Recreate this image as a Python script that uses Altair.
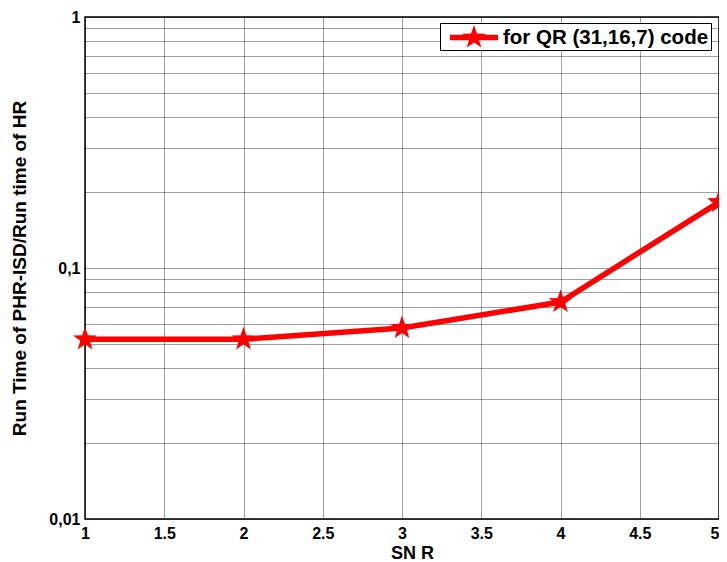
import math
import altair as alt
import pandas as pd

# ---- data ----
snr = [1, 2, 3, 4, 5]
ratio = [0.052, 0.052, 0.0577, 0.0732, 0.183]
series_name = "for QR (31,16,7) code"
x_ticks = [1, 1.5, 2, 2.5, 3, 3.5, 4, 4.5, 5]
y_grid = [0.01, 0.02, 0.03, 0.04, 0.05, 0.06, 0.07, 0.08, 0.09,
          0.1, 0.2, 0.3, 0.4, 0.5, 0.6, 0.7, 0.8, 0.9, 1]
y_labels = {"1": "1", "0.1": "0,1", "0.01": "0,01"}

df = pd.DataFrame({"SNR": snr, "ratio": ratio, "series": [series_name] * len(snr)})

# five-point star (MATLAB pentagram) as a unit path
pts = []
for i in range(10):
    r = 1.0 if i % 2 == 0 else 0.4
    a = -math.pi / 2 + i * math.pi / 5
    pts.append((r * math.cos(a), r * math.sin(a)))
star = "M" + " L".join(f"{x:.3f},{y:.3f}" for x, y in pts) + " Z"
legend_path = star + " M-1.92,-0.22 L1.92,-0.22 L1.92,0.22 L-1.92,0.22 Z"

font = "Liberation Sans"
red = "#ff0000"
W, H = 634, 502

label_expr = " : ".join(
    f"datum.value == {k} ? '{v}'" for k, v in y_labels.items()
) + " : ''"

grid_style = dict(gridDash=[1, 1], gridColor="#000", gridOpacity=0.75, gridWidth=1)

x_enc = alt.X(
    "SNR:Q",
    scale=alt.Scale(domain=[1, 5], nice=False, zero=False),
    axis=alt.Axis(values=x_ticks, format="~g", title="SN R", labelFlush=False,
                  labelAlign={"condition": {"test": "datum.value == 5", "value": "right"},
                              "value": "center"},
                  ticks=False, domain=False, labelPadding=6, labelFontSize=16,
                  titleFontSize=18, titleBaseline="alphabetic", titleY=39, titleX=327,
                  **grid_style),
)
y_enc = alt.Y(
    "ratio:Q",
    scale=alt.Scale(type="log", domain=[0.01, 1], nice=False),
    axis=alt.Axis(values=y_grid, labelExpr=label_expr, title="Run Time of PHR-ISD/Run time of HR",
                  labelOverlap=False, ticks=False, domain=False, labelPadding=5,
                  labelFlush=False, labelFontSize=16, titleFontSize=19, titleBaseline="middle",
                  titleX=-66, titleY=H / 2, titleAngle=270,
                  **grid_style),
)

line = alt.Chart(df).mark_line(color=red, strokeWidth=5.5).encode(
    x=x_enc, y=y_enc, detail="series:N"
)

points = alt.Chart(df).mark_point(shape=star, size=625, filled=True, opacity=1,
                                  strokeWidth=0).encode(
    x=x_enc, y=y_enc,
    color=alt.Color("series:N", scale=alt.Scale(domain=[series_name], range=[red]),
                    legend=alt.Legend(title=None, orient="none", legendX=355, legendY=6,
                                      symbolType=legend_path, symbolSize=625,
                                      symbolOffset=19.5, labelOffset=16.5,
                                      symbolStrokeWidth=0, symbolFillColor=red,
                                      labelFont=font, labelFontSize=20.5, labelFontWeight="bold",
                                      labelColor="black", padding=2, strokeColor="black",
                                      fillColor="white", labelLimit=400)),
)

chart = alt.layer(line, points).properties(
    width=W, height=H,
    autosize=alt.AutoSizeParams(type="none"),
    padding={"left": 77, "top": 9, "right": 0, "bottom": 43},
    background="white",
).configure_view(stroke="black", strokeWidth=1.5).configure_axis(
    labelFont=font, labelFontWeight="bold", labelColor="black",
    titleFont=font, titleFontWeight="bold", titleColor="black",
)

chart.save("out.html", embed_options={"renderer": "svg", "actions": False})
